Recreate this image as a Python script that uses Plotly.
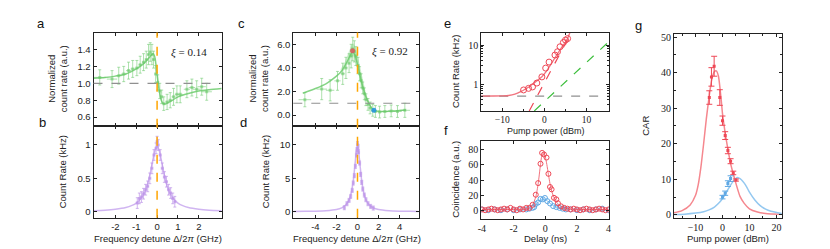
import plotly.graph_objects as go

# ---------------- data ----------------
# panel a (normalized count rate, xi = 0.14)
a_x = [-2.75, -2.16, -1.84, -1.6, -1.37, -1.17, -0.97, -0.81, -0.65, -0.52, -0.41, -0.33, -0.25, -0.17, -0.07,
       0.03, 0.13, 0.22, 0.32, 0.48, 0.63, 0.79, 0.95, 1.11, 1.43, 1.67, 1.9, 2.14, 2.38]
a_y = [1.07, 1.05, 1.09, 1.11, 1.15, 1.17, 1.18, 1.22, 1.25, 1.28, 1.34, 1.37, 1.34, 1.28, 1.11,
       1.01, 0.91, 0.84, 0.76, 0.78, 0.8, 0.84, 0.87, 0.87, 0.93, 0.95, 0.93, 0.96, 0.9]
a_err = [0.09, 0.1, 0.1, 0.09, 0.1, 0.1, 0.09, 0.1, 0.1, 0.1, 0.12, 0.11, 0.12, 0.1, 0.1,
         0.09, 0.09, 0.08, 0.08, 0.09, 0.09, 0.1, 0.1, 0.1, 0.1, 0.1, 0.1, 0.1, 0.1]
a_xerr = [0.3, 0.25, 0.15, 0.12, 0.12, 0.1, 0.1, 0.08, 0.08, 0.06, 0.05, 0.05, 0.05, 0.05, 0.05,
          0.05, 0.05, 0.05, 0.06, 0.08, 0.08, 0.1, 0.1, 0.12, 0.15, 0.15, 0.2, 0.2, 0.25]
a_fit_x = [-3.05, -2.5, -2.0, -1.5, -1.0, -0.7, -0.5, -0.35, -0.25, -0.18, -0.1, 0.0, 0.1, 0.2, 0.3, 0.4,
           0.6, 1.0, 1.5, 2.0, 2.5, 3.1]
a_fit_y = [1.06, 1.07, 1.085, 1.11, 1.17, 1.22, 1.27, 1.31, 1.34, 1.35, 1.3, 1.1, 0.92, 0.8, 0.76, 0.755,
           0.78, 0.84, 0.88, 0.91, 0.925, 0.94]

# panel b (count rate)
b_x = [-0.95, -0.85, -0.75, -0.65, -0.55, -0.45, -0.35, -0.25, -0.15, -0.05, 0.0, 0.05, 0.15, 0.25, 0.35,
       0.45, 0.55, 0.65, 0.75, 0.85]
b_y = [0.13, 0.2, 0.22, 0.27, 0.33, 0.38, 0.5, 0.65, 0.85, 0.95, 1.05, 1.0, 0.85, 0.65, 0.52,
       0.45, 0.33, 0.28, 0.2, 0.15]
b_err = [0.08] * 20
b_fit_x = [-3.05, -2.5, -2.0, -1.5, -1.2, -1.0, -0.8, -0.6, -0.45, -0.3, -0.2, -0.1, 0.0,
           0.1, 0.2, 0.3, 0.45, 0.6, 0.8, 1.0, 1.2, 1.5, 2.0, 2.5, 3.1]
b_fit_y = [0.016, 0.023, 0.036, 0.062, 0.095, 0.13, 0.19, 0.29, 0.42, 0.62, 0.78, 0.92, 0.98,
           0.92, 0.78, 0.62, 0.42, 0.29, 0.19, 0.13, 0.095, 0.062, 0.036, 0.023, 0.016]

# panel c (normalized count rate, xi = 0.92)
c_x = [-5.0, -3.4, -2.6, -1.9, -1.4, -1.1, -0.8, -0.6, -0.45, -0.3, -0.15, 0.05, 0.2, 0.35, 0.5,
       0.65, 0.8, 1.0, 1.2, 1.45, 1.7, 2.1, 2.6, 3.2, 3.8, 4.5]
c_y = [1.3, 2.2, 2.1, 2.9, 3.5, 4.0, 4.4, 5.0, 5.6, 5.4, 5.0, 4.2, 3.5, 2.9, 2.3,
       1.8, 1.3, 0.9, 0.6, 0.4, 0.3, 0.25, 0.3, 0.35, 0.3, 0.4]
c_err = [0.6, 0.9, 0.9, 0.8, 0.9, 0.9, 0.8, 1.0, 1.0, 0.9, 0.8, 0.7, 0.6, 0.6, 0.5,
         0.5, 0.5, 0.5, 0.5, 0.5, 0.5, 0.5, 0.5, 0.5, 0.5, 0.6]
c_xerr = [0.6, 0.5, 0.4, 0.3, 0.2, 0.15, 0.1, 0.1, 0.1, 0.1, 0.1, 0.1, 0.1, 0.1, 0.1,
          0.1, 0.1, 0.1, 0.15, 0.15, 0.2, 0.2, 0.3, 0.3, 0.4, 0.5]
c_fit_x = [-5.2, -4.0, -3.0, -2.0, -1.5, -1.0, -0.7, -0.45, -0.2, 0.0, 0.2, 0.5, 0.8, 1.0, 1.3, 1.6,
           2.0, 2.5, 3.0, 4.0, 4.6]
c_fit_y = [1.85, 2.25, 2.65, 3.3, 3.75, 4.5, 5.05, 5.35, 5.0, 4.3, 3.5, 2.4, 1.55, 1.15, 0.65, 0.4,
           0.32, 0.3, 0.32, 0.38, 0.42]
c_band_x = [-1.6, -1.2, -0.9, -0.6, -0.4, -0.2, 0.0, 0.2, 0.5, 0.8, 1.1, 1.4]
c_band_hi = [3.9, 4.5, 5.2, 5.9, 6.1, 5.8, 5.1, 4.3, 3.0, 1.9, 1.1, 0.6]
c_band_lo = [3.5, 3.9, 4.4, 4.9, 5.0, 4.6, 3.9, 3.1, 2.0, 1.3, 0.8, 0.4]
c_red_pt = (-0.47, 5.45)
c_blue_pt = (1.56, 0.4)

# panel d (count rate)
d_x = [-1.25, -1.0, -0.8, -0.65, -0.5, -0.4, -0.3, -0.2, -0.1, -0.05, 0.0, 0.05, 0.1, 0.2, 0.3, 0.4,
       0.5, 0.65, 0.8, 1.0, 1.25, 1.5]
d_y = [0.6, 1.2, 1.7, 2.3, 3.2, 4.3, 5.4, 6.8, 8.5, 9.3, 10.2, 9.8, 9.0, 7.3, 5.6, 4.4,
       3.4, 2.5, 1.8, 1.2, 0.8, 0.55]
d_err = [0.3] * 22
d_fit_x = [-6.1, -5.0, -4.0, -3.0, -2.0, -1.5, -1.1, -0.8, -0.6, -0.4, -0.25, -0.1, 0.0,
           0.1, 0.25, 0.4, 0.6, 0.8, 1.1, 1.5, 2.0, 3.0, 4.0, 5.0, 5.8]
d_fit_y = [0.04, 0.056, 0.088, 0.155, 0.34, 0.59, 1.04, 1.8, 2.81, 4.65, 6.84, 9.17, 9.8,
           9.17, 6.84, 4.65, 2.81, 1.8, 1.04, 0.59, 0.34, 0.155, 0.088, 0.056, 0.045]

# panel e (count rate vs pump power)
e_x = [-4.94, -3.76, -2.82, -1.8, -0.6, 0.3, 1.1, 2.5, 3.1, 3.7, 4.5, 5.0, 5.5]
e_y = [0.72, 0.79, 0.86, 1.08, 1.55, 2.6, 3.7, 5.6, 6.8, 9.1, 11.7, 13.5, 14.7]
e_fit_x = [-15, -12, -10, -8.5, -7, -5.5, -4.5, -3.5, -2.6, -1.5, -0.6, 0.4, 1.34, 2.3, 3.3, 4.1, 4.9, 5.5, 6.05]
e_fit_y = [0.5, 0.505, 0.51, 0.52, 0.56, 0.66, 0.76, 0.88, 1.06, 1.3, 1.56, 2.1, 3.0, 4.4, 6.5, 8.8, 11.7, 15.0, 21]
e_quad_x = [-3.6, 5.5]
e_quad_y = [0.21, 13.9]
e_lin_x = [-2.4, 15.0]
e_lin_y = [0.21, 11.5]
e_noise_x = [-15, 15.4]
e_noise_y = [0.5, 0.5]

# panel f (coincidence histogram)
f_rx = [-4.0, -3.8, -3.6, -3.4, -3.2, -3.0, -2.8, -2.6, -2.4, -2.2, -2.0, -1.8, -1.6, -1.4, -1.2, -1.0,
        -0.8, -0.6, -0.45, -0.3, -0.2, -0.08, 0.08, 0.2, 0.3, 0.4, 0.55, 0.7, 0.8, 1.0, 1.2,
        1.4, 1.6, 1.8, 2.0, 2.2, 2.4, 2.6, 2.8, 3.0, 3.2, 3.4, 3.6, 3.8, 4.0]
f_ry = [2, 1, 2, 3, 2, 1, 2, 3, 2, 4, 2, 1, 3, 2, 4, 4,
        8, 21, 36, 61, 75, 73, 69, 48, 31, 28, 17, 15, 10, 6, 4,
        3, 2, 3, 2, 1, 2, 3, 2, 1, 2, 3, 2, 1, 2]
f_bx = [-4.0, -3.6, -3.2, -2.8, -2.4, -2.0, -1.6, -1.2, -1.0, -0.8, -0.7, -0.6, -0.45, -0.3, -0.15,
        -0.02, 0.13, 0.3, 0.5, 0.7, 0.9, 1.1, 1.3, 1.6, 2.0, 2.4, 2.8, 3.2, 3.6, 4.0]
f_by = [2, 1, 2, 1, 2, 1, 2, 2, 3, 4, 5, 9, 11, 15.6, 15,
        16.8, 12.7, 9.7, 6.3, 5, 4, 3, 2, 2, 1, 2, 1, 2, 3, 1]
f_rfit_x = [-4, -2, -1.2, -1.0, -0.8, -0.6, -0.45, -0.3, -0.2, -0.1, 0, 0.1, 0.2, 0.35, 0.5, 0.7, 0.9, 1.2,
            1.6, 2, 4]
f_rfit_y = [2, 2, 2.5, 4, 8, 18, 35, 60, 73, 75, 70, 60, 47, 30, 20, 12, 7, 4, 2.5, 2, 2]
f_bfit_x = [-4, -2, -1.2, -0.9, -0.7, -0.5, -0.3, -0.1, 0.1, 0.3, 0.5, 0.8, 1.1, 1.5, 2, 4]
f_bfit_y = [1.5, 1.5, 2, 3.5, 6, 10, 14, 15.5, 13.5, 10, 7, 4.5, 3, 2, 1.5, 1.5]

# panel g (CAR)
g_rx = [-4.9, -4.1, -3.1, -1.0, 0.0, 1.0, 2.0, 3.0, 4.0, 5.0]
g_ry = [33, 38.8, 41.8, 33, 26.5, 22.3, 18.1, 15.1, 11.8, 9.8]
g_rerr = [1.9, 2.6, 2.8, 2.2, 1.3, 1.1, 0.9, 0.7, 0.5, 0.3]
g_bx = [0.0, 1.0, 2.0, 3.0]
g_by = [5.0, 6.1, 8.8, 10.2]
g_berr = [0.5, 0.6, 0.8, 0.8]
g_rfit_x = [-18, -15, -12, -10, -9, -8, -7, -6, -5, -4, -3, -2.3, -1.5, -0.5, 0, 1, 2, 3, 4, 5, 6.5, 8, 10,
            13, 16, 22]
g_rfit_y = [0.6, 1.2, 2.8, 5.5, 8.5, 13.5, 20, 27, 33, 38, 40.3, 40.5, 39, 32.5, 28.5, 23, 18.5, 14.5, 11.5,
            8.8, 5.2, 3.3, 1.7, 0.8, 0.4, 0.15]
g_bfit_x = [-18, -14, -10, -7, -5, -3, -1, 0, 1, 2, 3, 4, 5, 5.5, 6, 7, 8, 9, 10, 12, 14, 16, 18, 22]
g_bfit_y = [0.1, 0.2, 0.5, 0.9, 1.4, 2.2, 3.6, 4.6, 5.8, 7.1, 8.4, 9.5, 10.3, 10.5, 10.4, 9.9, 9.0, 7.8,
            6.4, 4.2, 2.6, 1.6, 1.0, 0.4]

# ---------------- styles ----------------
W, H = 830, 249
GREEN_PT = "rgba(105,200,105,0.55)"
GREEN_LN = "rgba(110,205,110,0.85)"
PURPLE_PT = "rgba(190,150,232,0.7)"
PURPLE_LN = "rgba(200,168,238,0.85)"
ORANGE = "#FFA500"
GRAY = "#909090"
RED = "rgb(238,72,86)"
RED_LN = "rgba(240,100,112,0.9)"
RED_LIGHT = "rgb(245,135,142)"
BLUE = "rgb(95,168,228)"
BLUE_LIGHT = "rgb(148,200,240)"
GREEN_DASH = "rgb(60,190,60)"
SANS = "Liberation Sans"
SERIF = "Liberation Serif"

fig = go.Figure()


def add(tr, n):
    tr.update(xaxis="x" if n == 1 else f"x{n}", yaxis="y" if n == 1 else f"y{n}", showlegend=False)
    fig.add_trace(tr)


# panel a
add(go.Scatter(x=a_fit_x, y=a_fit_y, mode="lines", line=dict(color=GREEN_LN, width=1.5, shape="spline", smoothing=0.6)), 1)
add(go.Scatter(x=a_x, y=a_y, mode="markers", marker=dict(color=GREEN_PT, size=3, symbol="square"),
               error_y=dict(array=a_err, color=GREEN_PT, thickness=1, width=1.5),
               error_x=dict(array=a_xerr, color=GREEN_PT, thickness=1, width=0)), 1)
# panel b
add(go.Scatter(x=b_fit_x, y=b_fit_y, mode="lines", line=dict(color=PURPLE_LN, width=1.5, shape="spline", smoothing=0.6)), 2)
add(go.Scatter(x=b_x, y=b_y, mode="markers", marker=dict(color=PURPLE_PT, size=3, symbol="square"),
               error_y=dict(array=b_err, color=PURPLE_PT, thickness=1, width=1.5),
               error_x=dict(array=[0.05] * len(b_x), color=PURPLE_PT, thickness=1, width=0)), 2)
# panel c
add(go.Scatter(x=c_band_x + c_band_x[::-1], y=c_band_hi + c_band_lo[::-1], mode="lines", fill="toself",
               fillcolor="rgba(120,210,120,0.35)", line=dict(width=0)), 3)
add(go.Scatter(x=c_fit_x, y=c_fit_y, mode="lines", line=dict(color=GREEN_LN, width=1.5, shape="spline", smoothing=0.6)), 3)
add(go.Scatter(x=c_x, y=c_y, mode="markers", marker=dict(color=GREEN_PT, size=3, symbol="square"),
               error_y=dict(array=c_err, color=GREEN_PT, thickness=1, width=1.5),
               error_x=dict(array=c_xerr, color=GREEN_PT, thickness=1, width=0)), 3)
add(go.Scatter(x=[c_red_pt[0]], y=[c_red_pt[1]], mode="markers", marker=dict(color="rgba(215,95,95,0.9)", size=5)), 3)
add(go.Scatter(x=[c_blue_pt[0]], y=[c_blue_pt[1]], mode="markers", marker=dict(color="rgba(40,150,225,0.9)", size=5)), 3)
# panel d
add(go.Scatter(x=d_fit_x, y=d_fit_y, mode="lines", line=dict(color=PURPLE_LN, width=1.5, shape="spline", smoothing=0.6)), 4)
add(go.Scatter(x=d_x, y=d_y, mode="markers", marker=dict(color=PURPLE_PT, size=3, symbol="square"),
               error_y=dict(array=d_err, color=PURPLE_PT, thickness=1, width=1.5)), 4)
# panel e
add(go.Scatter(x=e_noise_x, y=e_noise_y, mode="lines", line=dict(color=GRAY, width=1.2, dash="dash")), 5)
add(go.Scatter(x=e_lin_x, y=e_lin_y, mode="lines", line=dict(color=GREEN_DASH, width=1.2, dash="dash")), 5)
add(go.Scatter(x=e_quad_x, y=e_quad_y, mode="lines", line=dict(color=RED, width=1.2, dash="dash")), 5)
add(go.Scatter(x=e_fit_x, y=e_fit_y, mode="lines", line=dict(color=RED_LN, width=1.3, shape="spline", smoothing=0.6)), 5)
add(go.Scatter(x=e_x, y=e_y, mode="markers", marker=dict(symbol="circle-open", color=RED, size=6, line=dict(width=1))), 5)
# panel f
add(go.Scatter(x=f_bfit_x, y=f_bfit_y, mode="lines", line=dict(color=BLUE_LIGHT, width=1, shape="spline", smoothing=0.6)), 6)
add(go.Scatter(x=f_bx, y=f_by, mode="markers", marker=dict(symbol="circle-open", color=BLUE, size=5, line=dict(width=1))), 6)
add(go.Scatter(x=f_rfit_x, y=f_rfit_y, mode="lines", line=dict(color=RED_LN, width=1, shape="spline", smoothing=0.6)), 6)
add(go.Scatter(x=f_rx, y=f_ry, mode="markers", marker=dict(symbol="circle-open", color=RED, size=5, line=dict(width=1))), 6)
# panel g
add(go.Scatter(x=g_rfit_x, y=g_rfit_y, mode="lines", line=dict(color=RED_LIGHT, width=1.5, shape="spline", smoothing=0.6)), 7)
add(go.Scatter(x=g_bfit_x, y=g_bfit_y, mode="lines", line=dict(color=BLUE_LIGHT, width=1.5, shape="spline", smoothing=0.6)), 7)
add(go.Scatter(x=g_rx, y=g_ry, mode="markers", marker=dict(symbol="square", color=RED, size=3),
               error_y=dict(array=g_rerr, color=RED, thickness=1, width=3)), 7)
add(go.Scatter(x=g_bx, y=g_by, mode="markers", marker=dict(symbol="square", color=BLUE, size=3),
               error_y=dict(array=g_berr, color=BLUE, thickness=1, width=3)), 7)


def px_x(p):
    return p / W


def px_y(p):
    return 1 - p / H


X_AB = [px_x(83), px_x(212)]
X_CD = [px_x(284), px_x(410)]
X_EF = [px_x(473), px_x(602)]
X_G = [px_x(667), px_x(776)]
Y_A = [px_y(118), px_y(23)]
Y_B = [px_y(212), px_y(118)]
Y_E = [px_y(103), px_y(23)]
Y_F = [px_y(213), px_y(134)]
Y_G = [px_y(212), px_y(24)]


def axis(domain, rng, anchor, font=SANS, size=9.5, **kw):
    d = dict(domain=domain, range=rng, anchor=anchor, showline=True, linecolor="#222", linewidth=1,
             mirror="ticks", ticks="inside", ticklen=3, tickcolor="#222", tickwidth=1, showgrid=False,
             zeroline=False, tickfont=dict(family=font, size=size, color="#222"))
    d.update(kw)
    return d


layout = dict(
    width=W, height=H, margin=dict(l=0, r=0, t=0, b=0), paper_bgcolor="white", plot_bgcolor="white",
    showlegend=False,
    xaxis=axis(X_AB, [-3.05, 3.1], "y", tickvals=[-2, -1, 0, 1, 2], showticklabels=False),
    yaxis=axis(Y_A, [0.5, 1.6], "x", tickvals=[0.6, 0.8, 1.0, 1.2, 1.4], ticktext=["0.6", "0.8", "1.0", "1.2", "1.4"]),
    xaxis2=axis(X_AB, [-3.05, 3.1], "y2", tickvals=[-2, -1, 0, 1, 2], ticktext=["-2", "-1", "0", "1", "2"]),
    yaxis2=axis(Y_B, [-0.09, 1.29], "x2", tickvals=[0, 0.5, 1], ticktext=["0", "0.5", "1"]),
    xaxis3=axis(X_CD, [-6.1, 5.8], "y3", tickvals=[-4, -2, 0, 2, 4], showticklabels=False),
    yaxis3=axis(Y_A, [-0.9, 7.0], "x3", tickvals=[0, 2, 4, 6], ticktext=["0.0", "2.0", "4.0", "6.0"]),
    xaxis4=axis(X_CD, [-6.1, 5.8], "y4", tickvals=[-4, -2, 0, 2, 4], ticktext=["-4", "-2", "0", "2", "4"]),
    yaxis4=axis(Y_B, [-0.9, 12.9], "x4", tickvals=[0, 5, 10]),
    xaxis5=axis(X_EF, [-15, 15.4], "y5", font=SERIF, size=9.5, tickvals=[-10, 0, 10],
                ticktext=["\u221210", "0", "10"], ticklabelstandoff=0,
                minor=dict(ticks="inside", ticklen=2, tickcolor="#222", tickvals=[-5, 5])),
    yaxis5=axis(Y_E, [-0.678, 1.322], "x5", font=SERIF, size=10, type="log", tickvals=[1, 10],
                ticktext=["1", "10"],
                minor=dict(ticks="inside", ticklen=2, tickcolor="#222",
                           tickvals=[0.3, 0.4, 0.5, 0.6, 0.7, 0.8, 0.9, 2, 3, 4, 5, 6, 7, 8, 9, 20])),
    xaxis6=axis(X_EF, [-4.05, 4.05], "y6", font=SERIF, size=10, tickvals=[-4, -2, 0, 2, 4],
                ticktext=["-4", "-2", "0", "2", "4"]),
    yaxis6=axis(Y_F, [-10, 90], "x6", font=SERIF, size=10, tickvals=[0, 20, 40, 60, 80]),
    xaxis7=axis(X_G, [-18, 22.2], "y7", font=SERIF, size=10, tickvals=[-10, 0, 10, 20],
                ticktext=["\u221210", "0", "10", "20"],
                minor=dict(ticks="inside", ticklen=2, tickcolor="#222", tickvals=[-15, -5, 5, 15])),
    yaxis7=axis(Y_G, [-0.8, 51], "x7", font=SERIF, size=10, tickvals=[0, 10, 20, 30, 40, 50],
                minor=dict(ticks="inside", ticklen=2, tickcolor="#222", tickvals=[5, 15, 25, 35, 45])),
)
fig.update_layout(**layout)

# reference lines
shapes = [
    dict(type="line", xref="x", yref="paper", x0=0, x1=0, y0=Y_B[0], y1=Y_A[1],
         line=dict(color=ORANGE, width=1.5, dash="dash")),
    dict(type="line", xref="x3", yref="paper", x0=0, x1=0, y0=Y_B[0], y1=Y_A[1],
         line=dict(color=ORANGE, width=1.5, dash="dash")),
    dict(type="line", xref="x domain", yref="y", x0=0, x1=1, y0=1.0, y1=1.0,
         line=dict(color=GRAY, width=1.2, dash="dash")),
    dict(type="line", xref="x3 domain", yref="y3", x0=0, x1=1, y0=1.0, y1=1.0,
         line=dict(color=GRAY, width=1.2, dash="dash")),
]
fig.update_layout(shapes=shapes)

TFONT = dict(family=SANS, size=9.5, color="#222")
ann = []


def text(t, x, y, rot=0, font=TFONT):
    ann.append(dict(text=t, x=px_x(x), y=px_y(y), xref="paper", yref="paper", showarrow=False,
                    textangle=rot, font=font, xanchor="center", yanchor="middle"))


LFONT = dict(family=SANS, size=13, color="#111")
for lab, x, y in [("a", 30, 14), ("b", 32, 115), ("c", 232, 14), ("d", 234, 115), ("e", 439, 14),
                  ("f", 438, 123), ("g", 631, 16)]:
    text(lab, x, y, font=LFONT)

text("Normalized<br>count rate (a.u.)", 47, 70, rot=-90)
text("Count Rate (kHz)", 52, 165, rot=-90)
text("Normalized<br>count rate (a.u.)", 249, 70, rot=-90)
text("Count Rate (kHz)", 256, 165, rot=-90)
text("Frequency detune \u0394/2<i>\u03c0</i> (GHz)", 148, 233)
text("Frequency detune \u0394/2<i>\u03c0</i> (GHz)", 348, 233)
text("Count Rate (kHz)", 447, 63, rot=-90)
text("Pump power (dBm)", 538, 123, font=dict(family=SANS, size=9, color="#222"))
text("Coincidence (a.u.)", 447, 173, rot=-90)
text("Delay (ns)", 538, 233)
text("CAR", 638, 118, rot=-90)
text("Pump power (dBm)", 721, 233)
XIF = dict(family=SERIF, size=11, color="#222")
text("<i>\u03be</i> = 0.14", 179, 43, font=XIF)
text("<i>\u03be</i> = 0.92", 381, 42, font=XIF)
fig.update_layout(annotations=ann)

fig.write_html("out.html")
